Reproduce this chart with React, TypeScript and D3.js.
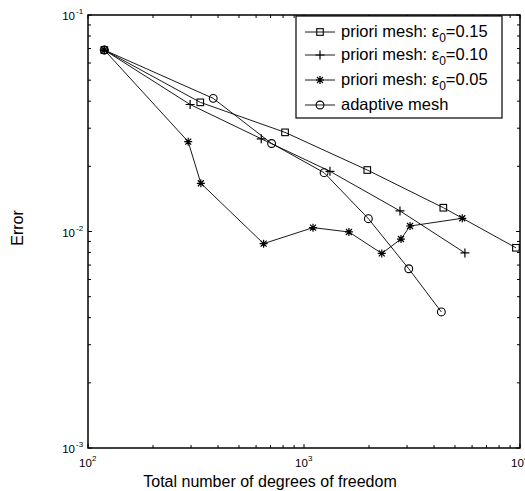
import React from "react";
import * as d3 from "d3";

// values
const dofEps15 = [119, 331, 817, 1963, 4416, 9575];
const errEps15 = [0.0689, 0.0395, 0.0287, 0.01923, 0.01288, 0.00841];

const dofEps10 = [119, 297, 634, 1319, 2782, 5559];
const errEps10 = [0.0689, 0.0386, 0.0268, 0.01897, 0.01245, 0.00796];

const dofEps05 = [119, 291, 333, 650, 1101, 1614, 2291, 2812, 3097, 5404];
const errEps05 = [0.0689, 0.026, 0.0167, 0.00879, 0.01042, 0.00995, 0.00792, 0.00923, 0.0106, 0.01151];

const dofAdaptive = [119, 380, 708, 1239, 1986, 3055, 4324];
const errAdaptive = [0.0689, 0.0412, 0.0255, 0.0187, 0.01146, 0.00673, 0.00425];

const xDecades = [100, 1000, 10000];
const xExponents = ["2", "3", "4"];
const yDecades = [0.001, 0.01, 0.1];
const yExponents = ["-3", "-2", "-1"];

const legendLabels = ["0.15", "0.10", "0.05"];

const W = 525,
  H = 491;
const margin = { top: 15, right: 5, bottom: 43, left: 88 };
const font = "'Liberation Sans', Arial, Helvetica, sans-serif";

function Marker({ kind, x, y }: { kind: string; x: number; y: number }) {
  const s = "#000";
  if (kind === "square")
    return <rect x={x - 3.3} y={y - 3.3} width={6.6} height={6.6} fill="none" stroke={s} strokeWidth={1.1} />;
  if (kind === "circle") return <circle cx={x} cy={y} r={3.9} fill="none" stroke={s} strokeWidth={1.1} />;
  if (kind === "plus")
    return (
      <path d={`M${x - 4.5},${y}H${x + 4.5}M${x},${y - 4.5}V${y + 4.5}`} stroke={s} strokeWidth={1.2} />
    );
  // asterisk
  const a = 4,
    b = 3;
  return (
    <path
      d={`M${x - a},${y}H${x + a}M${x},${y - a}V${y + a}M${x - b},${y - b}L${x + b},${y + b}M${x - b},${y + b}L${x + b},${y - b}`}
      stroke={s}
      strokeWidth={1.2}
    />
  );
}

export default function App() {
  const x = d3.scaleLog().domain([100, 10000]).range([margin.left, W - margin.right]);
  const y = d3.scaleLog().domain([0.001, 0.1]).range([H - margin.bottom, margin.top]);
  const x0 = x.range()[0],
    x1 = x.range()[1];
  const y0 = y.range()[0],
    y1 = y.range()[1];

  const line = d3
    .line<[number, number]>()
    .x((d) => x(d[0]))
    .y((d) => y(d[1]));

  const series = [
    { kind: "square", dof: dofEps15, err: errEps15 },
    { kind: "plus", dof: dofEps10, err: errEps10 },
    { kind: "star", dof: dofEps05, err: errEps05 },
    { kind: "circle", dof: dofAdaptive, err: errAdaptive },
  ];

  const xTicks = x.ticks();
  const yTicks = y.ticks();
  const isMajor = (v: number) => Math.abs(Math.log10(v) - Math.round(Math.log10(v))) < 1e-6;

  // legend box
  const lg = { x: 296, y: 16, w: 206, h: 102 };
  const rowY = [32, 55, 80, 105];

  return (
    <svg
      width={W}
      height={H}
      style={{ position: "absolute", left: 0, top: 0, background: "#fff" }}
      fontFamily={font}
    >
      <rect x={0} y={0} width={W} height={H} fill="#fff" />

      {/* ticks, inward on all four sides */}
      {xTicks.map((t, i) => {
        const len = isMajor(t) ? 4 : 3;
        return (
          <g key={"xt" + i} stroke="#000" strokeWidth={1}>
            <line x1={x(t)} x2={x(t)} y1={y0} y2={y0 - len} />
            <line x1={x(t)} x2={x(t)} y1={y1} y2={y1 + len} />
          </g>
        );
      })}
      {yTicks.map((t, i) => {
        const len = isMajor(t) ? 4 : 3;
        return (
          <g key={"yt" + i} stroke="#000" strokeWidth={1}>
            <line x1={x0} x2={x0 + len} y1={y(t)} y2={y(t)} />
            <line x1={x1} x2={x1 - len} y1={y(t)} y2={y(t)} />
          </g>
        );
      })}

      {/* series */}
      {series.map((s, i) => {
        const pts = s.dof.map((d, j) => [d, s.err[j]] as [number, number]);
        return (
          <g key={"s" + i}>
            <path d={line(pts) || ""} fill="none" stroke="#000" strokeWidth={0.9} />
            {pts.map((p, j) => (
              <Marker key={j} kind={s.kind} x={x(p[0])} y={y(p[1])} />
            ))}
          </g>
        );
      })}

      {/* axes box */}
      <rect x={x0} y={y1} width={x1 - x0} height={y0 - y1} fill="none" stroke="#000" strokeWidth={1.5} />

      {/* tick labels */}
      {xDecades.map((v, i) => (
        <g key={"xl" + i} fill="#000">
          <text x={x(v) - 9} y={y0 + 19} fontSize={11.5}>
            10
          </text>
          <text x={x(v) + 4} y={y0 + 13} fontSize={8}>
            {xExponents[i]}
          </text>
        </g>
      ))}
      {yDecades.map((v, i) => (
        <g key={"yl" + i} fill="#000">
          <text x={x0 - 13} y={y(v) + 5} fontSize={11.5} textAnchor="end">
            10
          </text>
          <text x={x0 - 12} y={y(v) - 1} fontSize={8}>
            {yExponents[i]}
          </text>
        </g>
      ))}

      {/* axis titles */}
      <text x={270} y={487} fontSize={16} textAnchor="middle">
        Total number of degrees of freedom
      </text>
      <text transform={`translate(23,228) rotate(-90)`} fontSize={16} textAnchor="middle">
        Error
      </text>

      {/* legend */}
      <rect x={lg.x} y={lg.y} width={lg.w} height={lg.h} fill="#fff" stroke="#000" strokeWidth={1.2} />
      {series.map((s, i) => (
        <g key={"lg" + i}>
          <line x1={305} x2={335} y1={rowY[i]} y2={rowY[i]} stroke="#000" strokeWidth={0.9} />
          <Marker kind={s.kind} x={320} y={rowY[i]} />
          {i < 3 ? (
            <text x={341} y={rowY[i] + 5} fontSize={16.5}>
              priori mesh: ε
              <tspan fontSize={12} dy={5}>
                0
              </tspan>
              <tspan dy={-5}>={legendLabels[i]}</tspan>
            </text>
          ) : (
            <text x={341} y={rowY[i] + 5} fontSize={16.5}>
              adaptive mesh
            </text>
          )}
        </g>
      ))}
    </svg>
  );
}
